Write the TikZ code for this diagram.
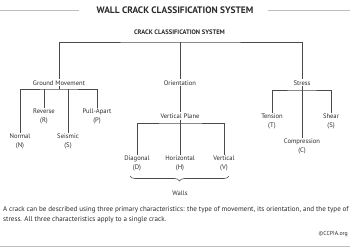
\documentclass[tikz,border=0pt]{standalone}
\usepackage{fontspec}
\setmainfont{PT Sans}
\usetikzlibrary{decorations.pathreplacing}
\definecolor{ln}{HTML}{4A4A4A}
\definecolor{tx}{HTML}{2A2A2A}
\definecolor{rule}{HTML}{BDBDBD}
\begin{document}
\begin{tikzpicture}[x=1pt,y=-1pt,
  lbl/.style={inner sep=1pt,text=tx,font=\fontsize{6.6}{8.8}\selectfont,align=center},
  kid/.style={lbl,anchor=north},
  conn/.style={draw=ln,line width=0.75pt},
  bracestyle/.style={draw=ln,line width=0.6pt,decorate,decoration={brace,mirror,amplitude=5pt}}]
\useasboundingbox (0,0) rectangle (350,250);
% header
\node[text=tx,font=\fontsize{9.4}{11}\selectfont\bfseries] (title) at (175,10.5) {WALL CRACK CLASSIFICATION SYSTEM};
\coordinate (hl0) at (0,10.5);
\coordinate (hr0) at (350,10.5);
\draw[rule,line width=0.6pt] (hl0) -- ([xshift=-14pt]title.west|-hl0);
\draw[rule,line width=0.6pt] ([xshift=11pt]title.east|-hr0) -- (hr0);
\node[text=tx,font=\fontsize{6.5}{8}\selectfont\bfseries] (root) at (179.5,32.5) {CRACK CLASSIFICATION SYSTEM};
% level 1
\node[lbl] (gm) at (59,82.7) {Ground Movement};
\node[lbl] (or) at (180,82.7) {Orientation};
\node[lbl] (st) at (302,82.7) {Stress};
\coordinate (bar1) at (180,42);
\draw[conn] (gm.north) |- (bar1) -| (st.north);
\draw[conn] (or.north) -- (or.north|-bar1);
% ground movement
\node[kid] (n) at (20,132.5) {Normal\\(N)};
\node[kid] (r) at (44,107.5) {Reverse\\(R)};
\node[kid] (s) at (68,132.5) {Seismic\\(S)};
\node[kid] (p) at (97,107.5) {Pull-Apart\\(P)};
\coordinate (bar2) at (59,89);
\draw[conn] (gm.south) -- (bar2);
\draw[conn] (n.north) |- (bar2) -| (p.north);
\draw[conn] (r.north) -- (r.north|-bar2);
\draw[conn] (s.north) -- (s.north|-bar2);
% orientation
\node[lbl] (vp) at (180,116) {Vertical Plane};
\draw[conn] (or.south) -- (vp.north);
\node[kid] (d) at (137,155) {Diagonal\\(D)};
\node[kid] (h) at (180,155) {Horizontal\\(H)};
\node[kid] (v) at (224,155) {Vertical\\(V)};
\coordinate (bar3) at (180,123);
\draw[conn] (vp.south) -- (bar3);
\draw[conn] (d.north) |- (bar3) -| (v.north);
\draw[conn] (h.north) -- (h.north|-bar3);
\coordinate (brL) at (130,176);
\coordinate (brR) at (229,176);
\draw[bracestyle] (brL) -- (brR);
\node[lbl] (walls) at (180,193) {Walls};
% stress
\node[kid] (t) at (272,112.5) {Tension\\(T)};
\node[kid] (c) at (302,138) {Compression\\(C)};
\node[kid] (sh) at (331,112.5) {Shear\\(S)};
\coordinate (bar4) at (302,90);
\draw[conn] (st.south) -- (bar4);
\draw[conn] (t.north) |- (bar4) -| (sh.north);
\draw[conn] (c.north) -- (c.north|-bar4);
% caption
\node[anchor=north west,inner sep=0pt,text=tx,font=\fontsize{7.05}{9.4}\selectfont,align=left] (cap) at (3,206.5) {A crack can be described using three primary characteristics: the type of movement, its orientation, and the type of\\stress. All three characteristics apply to a single crack.};
\node[anchor=east,inner sep=0pt,text=tx,font=\fontsize{5.8}{7}\selectfont] (cc) at (348,234) {©CCPIA.org};
\coordinate (bl) at (0,246);
\coordinate (br) at (350,246);
\draw[rule,line width=0.8pt] (bl) -- (br);
\end{tikzpicture}
\end{document}
